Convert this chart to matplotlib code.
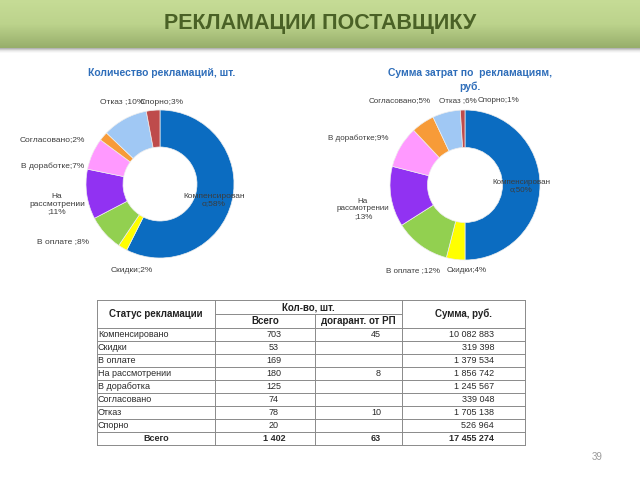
import matplotlib
matplotlib.use("Agg")
import matplotlib.pyplot as plt
import numpy as np
from matplotlib.colors import LinearSegmentedColormap

plt.rcParams['font.family'] = ['Liberation Sans', 'DejaVu Sans']

# ---------------- data ----------------
title = "РЕКЛАМАЦИИ ПОСТАВЩИКУ"
chart1_title = "Количество рекламаций, шт."
chart2_title = "Сумма затрат по  рекламациям,\nруб."
categories = ["Компенсировано", "Скидки", "В оплате", "На рассмотрении",
              "В доработке", "Согласовано", "Отказ", "Спорно"]
count_pct = [58, 2, 8, 11, 7, 2, 10, 3]
sum_pct = [50, 4, 12, 13, 9, 5, 6, 1]
count_labels = ["Компенсирован\nо;58%", "Скидки;2%", "В оплате ;8%",
                "На\nрассмотрении\n;11%", "В доработке;7%", "Согласовано;2%",
                "Отказ ;10%", "Спорно;3%"]
sum_labels = ["Компенсирован\nо;50%", "Скидки;4%", "В оплате ;12%",
              "На\nрассмотрении\n;13%", "В доработке;9%", "Согласовано;5%",
              "Отказ ;6%", "Спорно;1%"]

table_status = ["Компенсировано", "Скидки", "В оплате", "На рассмотрении",
                "В доработка", "Согласовано", "Отказ", "Спорно"]
table_total = ["703", "53", "169", "180", "125", "74", "78", "20"]
table_warranty = ["45", "", "", "8", "", "", "10", ""]
table_sum = ["10 082 883", "319 398", "1 379 534", "1 856 742",
             "1 245 567", "339 048", "1 705 138", "526 964"]
total_row = ["Всего", "1 402", "63", "17 455 274"]
header_top = ["Статус рекламации", "Кол-во, шт.", "Сумма, руб."]
header_sub = ["Всего", "догарант. от РП"]
page_number = "39"

# ---------------- style ----------------
colors = ["#0B6CC1", "#FFFF00", "#92D050", "#9132F2",
          "#FF99FF", "#F79B38", "#A0C8F4", "#BE4B4B"]
W, H = 640, 480
fig = plt.figure(figsize=(6.4, 4.8), dpi=100)
fig.patch.set_facecolor("white")


def px_axes(x0, y0, w, h, **kw):
    return fig.add_axes([x0 / W, 1 - (y0 + h) / H, w / W, h / H], **kw)


# header band
hax = px_axes(0, 0, 640, 48)
cmap = LinearSegmentedColormap.from_list("g", ["#C6DC96", "#BCD38C", "#97AE6B"])
grad = np.linspace(0, 1, 100).reshape(-1, 1)
hax.imshow(grad, aspect="auto", cmap=cmap, extent=(0, 1, 1, 0))
hax.set_xlim(0, 1)
hax.set_ylim(1, 0)
hax.axis("off")
sax = px_axes(0, 48, 640, 5)
cmap2 = LinearSegmentedColormap.from_list("s", ["#A9A9A9", "#E6E6E6", "#FFFFFF"])
sax.imshow(grad, aspect="auto", cmap=cmap2, extent=(0, 1, 1, 0))
sax.axis("off")

# donuts
label_color = "#3C3C3C"
count_label_pos = [(214, 200), (132, 271), (63, 242), (57, 204),
                   (53, 166), (52, 140), (122, 102), (162, 102)]
sum_label_pos = [(521, 186), (467, 271), (413, 271), (363, 209),
                 (358, 138), (400, 101), (458, 101), (499, 101)]


def donut(cx, cy, R, values):
    ax = px_axes(cx - R, cy - R, 2 * R, 2 * R)
    ax.pie(values, colors=colors, startangle=90, counterclock=False,
           wedgeprops=dict(width=0.5, edgecolor="#EEEEEE", linewidth=0.5))
    ax.set_xlim(-1, 1)
    ax.set_ylim(-1, 1)
    ax.set_aspect("equal")
    ax.axis("off")
    return ax


donut(160, 184, 74, count_pct)
donut(465, 185, 75, sum_pct)

# overlay for text and table
ov = px_axes(0, 0, 640, 480)
ov.set_xlim(0, W)
ov.set_ylim(H, 0)
ov.axis("off")
ov.patch.set_alpha(0)

ov.text(320, 23, title, ha="center", va="center", fontsize=15.5,
        fontweight="bold", color="#4A6126")
ov.text(162, 73, chart1_title, ha="center", va="center", fontsize=7.5,
        fontweight="bold", color="#2F6EBA")
ov.text(470, 80, chart2_title, ha="center", va="center", fontsize=7.5,
        fontweight="bold", color="#2F6EBA", linespacing=1.3)

for lab, (x, y) in zip(count_labels, count_label_pos):
    ov.text(x, y, lab, ha="center", va="center", fontsize=6,
            color=label_color, linespacing=1.15)
for lab, (x, y) in zip(sum_labels, sum_label_pos):
    ov.text(x, y, lab, ha="center", va="center", fontsize=5.8,
            color=label_color, linespacing=1.15)

# table
col_x = [97, 215, 315, 402, 525]
y_top, y_mid, y_head = 300, 314, 327.5
row_h = 13.1
n_rows = len(table_status) + 1
y_bottom = y_head + n_rows * row_h
lc = "#8A8A8A"
lw = 0.7
for j, x in enumerate(col_x):
    ys = y_mid if j == 2 else y_top
    ov.plot([x, x], [ys, y_bottom], color=lc, lw=lw)
ov.plot([col_x[0], col_x[-1]], [y_top, y_top], color=lc, lw=lw)
ov.plot([col_x[1], col_x[3]], [y_mid, y_mid], color=lc, lw=lw)
for i in range(n_rows + 1):
    y = y_head + i * row_h
    ov.plot([col_x[0], col_x[-1]], [y, y], color=lc, lw=lw)

hfs = 7
hc = "#222222"
ov.text((col_x[0] + col_x[1]) / 2, (y_top + y_head) / 2, header_top[0],
        ha="center", va="center", fontsize=hfs, fontweight="bold", color=hc)
ov.text((col_x[1] + col_x[3]) / 2, (y_top + y_mid) / 2 + 0.5, header_top[1],
        ha="center", va="center", fontsize=hfs, fontweight="bold", color=hc)
ov.text((col_x[3] + col_x[4]) / 2, (y_top + y_head) / 2, header_top[2],
        ha="center", va="center", fontsize=hfs, fontweight="bold", color=hc)
ov.text((col_x[1] + col_x[2]) / 2, (y_mid + y_head) / 2, header_sub[0],
        ha="center", va="center", fontsize=hfs, fontweight="bold", color=hc)
ov.text((col_x[2] + col_x[3]) / 2, (y_mid + y_head) / 2, header_sub[1],
        ha="center", va="center", fontsize=hfs, fontweight="bold", color=hc)

bfs = 6.5
tc = "#2A2A2A"
for i in range(len(table_status)):
    yc = y_head + (i + 0.5) * row_h
    ov.text(col_x[0] + 1, yc, table_status[i], ha="left", va="center",
            fontsize=bfs, color=tc)
    ov.text(274, yc, table_total[i], ha="center", va="center", fontsize=bfs, color=tc)
    ov.text(381, yc, table_warranty[i], ha="right", va="center", fontsize=bfs, color=tc)
    ov.text(494, yc, table_sum[i], ha="right", va="center", fontsize=bfs, color=tc)
yc = y_head + (len(table_status) + 0.5) * row_h
ov.text((col_x[0] + col_x[1]) / 2, yc, total_row[0], ha="center", va="center",
        fontsize=bfs, fontweight="bold", color=tc)
ov.text(274, yc, total_row[1], ha="center", va="center", fontsize=bfs,
        fontweight="bold", color=tc)
ov.text(381, yc, total_row[2], ha="right", va="center", fontsize=bfs,
        fontweight="bold", color=tc)
ov.text(494, yc, total_row[3], ha="right", va="center", fontsize=bfs,
        fontweight="bold", color=tc)

ov.text(597, 457, page_number, ha="center", va="center", fontsize=7, color="#9A9A9A")

fig.savefig("out.png", dpi=100, facecolor="white")
